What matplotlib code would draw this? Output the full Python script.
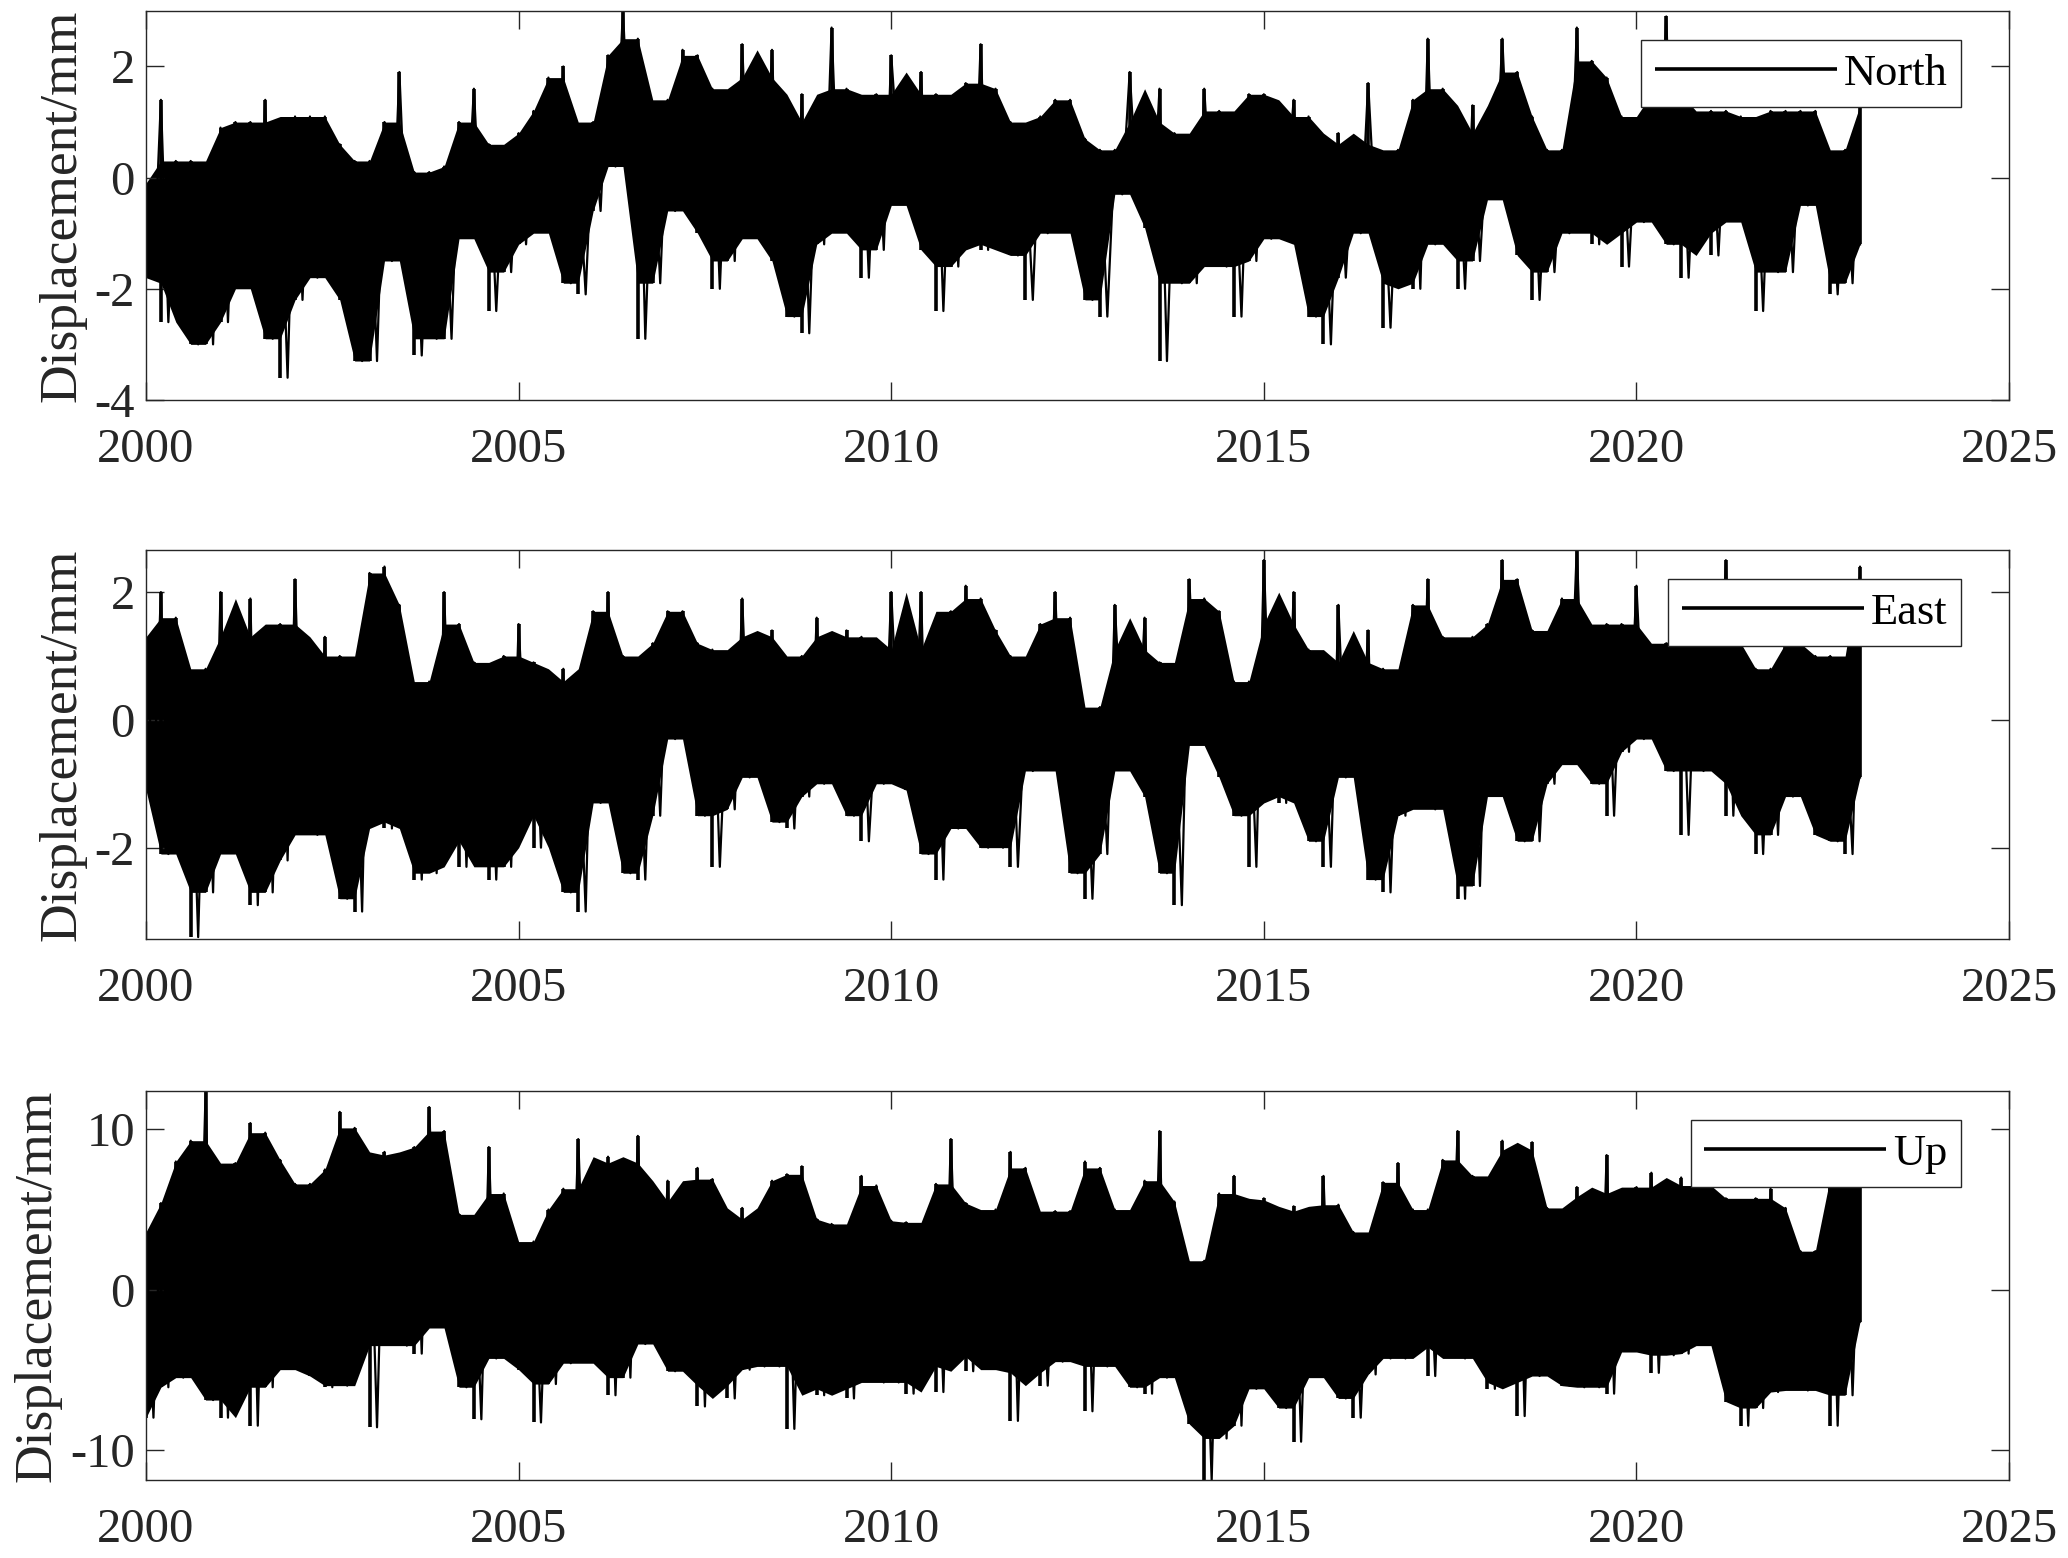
import numpy as np
import matplotlib.pyplot as plt

# epochs of the read-off samples (every 0.2 yr, 2000.0 - 2023.0)
years = np.round(np.arange(2000.0, 2023.01, 0.2), 1)

# upper / lower envelope of the daily series (mm)
north_hi = [-0.1, 1.4, 0.3, 0.3, 0.1,  0.9, 1.0, 1.0, 1.4, 0.2,  1.1, 1.1, 1.1, 0.6, 0.3,
            0.3, 1.0, 1.9, 0.1, 0.1,  0.2, 1.0, 1.6, 0.6, 0.5,  0.8, 1.2, 1.8, 2.0, 0.2,
            1.0, 2.2, 3.0, 2.5, 0.9,  1.4, 2.3, 2.2, 1.6, 1.3,  2.4, 1.8, 2.3, 1.0, 1.5,
            1.0, 2.7, 1.6, 1.4, 1.5,  2.2, 1.5, 1.9, 1.5, 1.2,  1.7, 2.4, 1.6, 1.0, 0.4,
            1.1, 1.4, 1.4, 0.7, 0.5,  0.5, 1.9, 1.0, 1.6, 0.8,  0.6, 1.6, 1.2, 0.7, 1.5,
            1.5, 0.9, 1.4, 1.1, 0.3,  0.8, 0.6, 1.7, 0.1, 0.5,  1.4, 2.5, 1.6, 0.8, 1.3,
            0.8, 2.5, 1.9, 1.1, 0.5,  0.5, 2.7, 2.1, 1.8, 1.1,  1.0, 1.5, 2.9, 1.5, 1.1,
            1.2, 1.2, 1.1, 0.7, 1.2,  1.2, 1.2, 1.2, 0.3, 0.5,  1.3]
north_lo = [-1.8, -2.6, -1.9, -3.0, -3.0,  -2.6, -1.5, -2.0, -2.9, -3.6,  -2.2, -1.8, -1.8, -2.2, -3.3,
            -3.3, -1.5, -1.3, -3.2, -2.9,  -2.9, -0.9, -1.1, -2.4, -1.7,  -1.2, -0.8, -1.0, -1.9, -2.1,
            -0.6, 0.2, 0.2, -2.9, -1.9,  -0.6, -0.1, -1.0, -2.0, -1.5,  -0.9, -1.1, -1.5, -2.5, -2.8,
            -1.2, -0.8, -1.0, -1.8, -1.3,  0.3, -0.5, -1.3, -2.4, -1.6,  -1.2, -1.3, -1.0, -1.4, -2.2,
            -1.0, -0.7, -1.0, -2.2, -2.5,  -0.3, -0.3, -0.9, -3.3, -1.9,  -1.9, -0.6, -1.6, -2.5, -1.5,
            -1.1, -0.3, -1.2, -2.5, -3.0,  -1.8, -1.0, -0.8, -2.7, -1.9,  -2.0, -1.2, -1.0, -2.0, -1.5,
            -0.3, -0.4, -1.4, -2.2, -1.7,  -1.0, -0.9, -1.2, -1.0, -1.6,  -0.8, -0.3, -1.2, -1.8, -1.0,
            -1.4, -0.3, -0.8, -2.4, -1.7,  -1.7, -0.5, -0.2, -2.1, -1.9,  -1.2]

east_hi = [1.3, 2.0, 1.6, 0.2, 0.8,  2.0, 1.3, 1.9, 1.3, 1.5,  2.2, 0.9, 1.3, 1.0, 0.6,
           2.3, 2.4, 1.8, 0.3, 0.6,  2.0, 1.5, 0.9, 0.5, 1.0,  1.5, 0.9, 0.6, 0.8, 0.0,
           1.7, 2.0, 1.0, 0.1, 1.2,  1.7, 1.7, 1.2, 1.1, 0.4,  1.9, 1.3, 1.4, 0.5, 1.0,
           1.6, 1.3, 1.4, 1.3, 0.1,  2.0, 1.1, 2.0, 1.0, 1.7,  2.1, 1.9, 1.4, 1.0, 0.2,
           1.5, 2.0, 1.6, 0.1, 0.2,  1.8, 1.1, 1.6, 0.9, 0.4,  2.2, 1.9, 1.7, 0.6, 0.6,
           2.5, 1.5, 2.0, 1.1, 0.5,  1.8, 0.9, 1.4, 0.8, 0.6,  1.8, 2.2, 1.3, 1.1, 1.3,
           1.5, 2.5, 2.2, 1.4, 0.5,  1.9, 2.7, 1.3, 1.5, 1.5,  2.1, 1.0, 1.2, 1.5, 1.5,
           1.4, 2.5, 1.2, 0.8, 0.8,  1.2, 1.2, 1.0, 1.0, 0.1,  2.4]
east_lo = [-1.1, -2.1, -2.1, -3.4, -2.7,  -1.1, -2.1, -2.9, -2.7, -2.2,  -1.5, -1.8, -1.8, -2.8, -3.0,
           -0.4, -1.7, -1.6, -2.5, -2.4,  -1.2, -2.3, -1.9, -2.5, -2.3,  -0.8, -2.0, -1.5, -2.7, -3.0,
           -1.3, -1.3, -2.4, -2.5, -1.5,  -0.3, -0.3, -1.5, -2.3, -1.4,  -0.9, -0.6, -1.6, -1.7, -1.2,
           -1.0, -0.7, -1.5, -1.9, -1.0,  -0.4, -1.1, -2.1, -2.5, -1.7,  -1.4, -2.0, -2.0, -2.3, -0.8,
           -0.4, -0.8, -2.4, -2.8, -2.1,  -0.3, -0.8, -1.2, -2.4, -2.9,  -0.3, -0.4, -0.9, -1.5, -2.3,
           -0.8, -1.3, -1.2, -1.9, -2.3,  -0.9, -0.8, -2.5, -2.7, -1.5,  -0.9, -1.4, -1.4, -2.8, -2.6,
           -0.1, -1.2, -1.9, -1.9, -1.0,  -0.4, -0.7, -1.0, -1.5, -0.5,  -0.3, -0.3, -0.8, -1.8, -0.8,
           -0.5, -1.5, -1.0, -2.1, -1.8,  -1.2, -1.2, -1.8, -1.9, -2.1,  -0.9]

up_hi = [3.6, 5.4, 8.0, 9.3, 12.4,  7.0, 7.9, 10.4, 9.8, 8.1,  6.6, 6.6, 7.5, 11.1, 10.1,
         6.9, 8.6, 8.4, 8.9, 11.4,  9.9, 4.7, 3.5, 8.9, 6.0,  2.2, 3.0, 5.0, 6.3, 9.4,
         4.5, 8.3, 7.9, 9.6, 5.5,  6.8, 4.6, 7.6, 6.9, 4.4,  5.1, 4.2, 6.8, 7.2, 7.7,
         4.4, 4.1, 3.6, 7.1, 6.5,  4.3, 4.2, 3.5, 6.6, 9.4,  5.4, 4.5, 5.0, 8.6, 7.6,
         4.1, 4.9, 4.9, 8.0, 7.6,  5.0, 3.6, 6.8, 9.9, 5.5,  1.7, 1.8, 6.0, 7.1, 5.6,
         5.7, 2.9, 5.2, 4.9, 7.1,  5.3, 3.6, 3.3, 6.7, 7.9,  5.0, 5.0, 8.1, 9.9, 7.1,
         5.2, 9.3, 8.7, 9.2, 5.1,  4.7, 6.4, 5.8, 8.4, 6.0,  6.4, 7.3, 6.4, 7.0, 6.5,
         6.5, 5.7, 3.9, 5.7, 6.3,  5.1, 2.4, 2.4, 8.0, 7.0,  7.0]
up_lo = [-8.0, -6.1, -5.5, -4.9, -6.9,  -8.0, -5.8, -8.5, -6.1, -3.0,  -5.0, -5.4, -6.1, -6.0, -3.5,
         -8.6, -2.5, -3.5, -4.0, -1.5,  -2.4, -6.1, -8.1, -4.3, -4.1,  -5.0, -8.3, -5.9, -4.6, -3.4,
         -4.6, -6.6, -5.5, -3.4, -3.4,  -5.1, -5.1, -7.3, -6.0, -6.8,  -5.0, -4.8, -4.8, -8.7, -3.8,
         -6.6, -6.2, -6.8, -3.7, -5.8,  -5.8, -6.5, -4.8, -6.4, -3.5,  -5.1, -4.2, -5.0, -8.2, -5.2,
         -6.0, -4.5, -4.1, -7.6, -4.8,  -4.8, -6.1, -6.5, -5.5, -4.4,  -8.4, -11.9, -9.3, -8.5, -6.2,
         -6.2, -7.4, -9.5, -5.0, -5.5,  -6.8, -8.0, -5.3, -4.3, -4.3,  -2.9, -5.4, -3.6, -4.3, -4.3,
         -6.2, -5.8, -7.9, -5.4, -5.4,  -6.0, -6.1, -6.1, -6.5, -2.5,  -3.9, -5.2, -4.1, -4.0, -2.8,
         -3.5, -7.0, -8.5, -7.4, -6.4,  -4.5, -6.3, -6.3, -8.5, -6.6,  -2.0]

components = ["North", "East", "Up"]
y_limits = [(-4, 3.0), (-3.43, 2.66), (-11.9, 12.4)]
y_ticks = [[-4, -2, 0, 2], [-2, 0, 2], [-10, 0, 10]]

plt.rcParams['font.family'] = ['Liberation Serif', 'DejaVu Serif']
plt.rcParams['axes.unicode_minus'] = False

fig = plt.figure(figsize=(20.68, 15.58), dpi=100)
bottoms = [0.7433, 0.3973, 0.05]
series = [(north_hi, north_lo), (east_hi, east_lo), (up_hi, up_lo)]


def median3(v):
    # middle value of each sample and its two neighbours
    stack = np.vstack([np.r_[v[0], v[:-1]], v, np.r_[v[1:], v[-1]]])
    return np.median(stack, axis=0)


for k in range(3):
    ax = fig.add_axes([0.0706, bottoms[k], 0.9009, 0.2497])
    hi = np.array(series[k][0])
    lo = np.array(series[k][1])

    # solid band of the series, isolated extremes drawn as spikes on top
    ax.fill_between(years, median3(lo), median3(hi), color='k', linewidth=0)
    xz = np.empty(2 * len(years))
    yz = np.empty(2 * len(years))
    xz[0::2] = years
    xz[1::2] = np.minimum(years + 0.1, years[-1])
    yz[0::2] = hi
    yz[1::2] = lo
    ax.plot(xz, yz, color='k', linewidth=1.6)
    ax.vlines(years, lo, hi, color='k', linewidth=2.6, label=components[k])

    ax.set_xlim(2000, 2025)
    ax.set_ylim(*y_limits[k])
    ax.set_xticks(range(2000, 2026, 5))
    ax.set_yticks(y_ticks[k])
    ax.tick_params(direction='in', length=13, width=1.0, color='0.15',
                   labelsize=35, labelcolor='0.15', top=True, right=True)
    ax.tick_params(axis='x', pad=20)
    ax.tick_params(axis='y', pad=8)
    for s in ax.spines.values():
        s.set_color('0.15')
        s.set_linewidth(1.0)
    ax.set_ylabel("Displacement/mm", fontsize=38.5, color='0.15', labelpad=6)

    leg = ax.legend(loc='upper right', bbox_to_anchor=(0.974, 0.925), borderaxespad=0,
                    fontsize=32, handlelength=4.1, handletextpad=0.15, borderpad=0.3,
                    fancybox=False, framealpha=1, edgecolor='0.15')
    leg.get_frame().set_linewidth(1.0)

plt.savefig("out.png", dpi=100)
